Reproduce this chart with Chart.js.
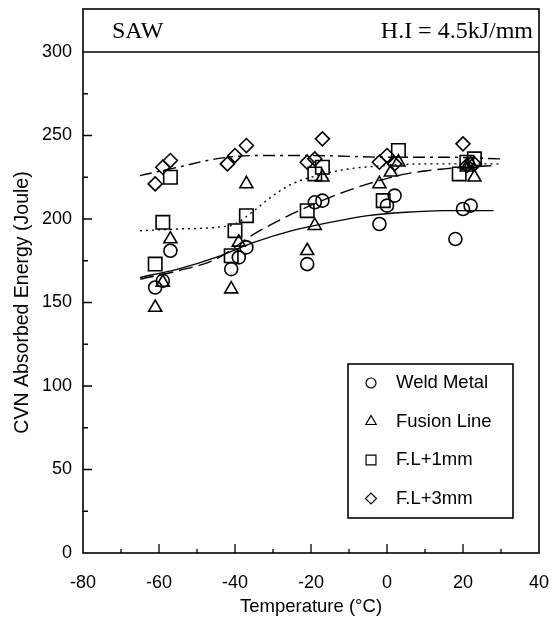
<!DOCTYPE html>
<html>
<head>
<meta charset="utf-8">
<script src="https://cdn.jsdelivr.net/npm/chart.js@4.4.0/dist/chart.umd.min.js"></script>
<style>
  html, body { margin: 0; padding: 0; background: #fff; }
  canvas { display: block; }
</style>
</head>
<body>
<canvas id="chart" width="556" height="623"></canvas>
<script>
// measured points (temperature in °C, energy in J)
const weldT = [-61, -59, -57, -41, -39, -37, -21, -19, -17, -2, 0, 2, 18, 20, 22];
const weldE = [159, 163, 181, 170, 177, 183, 173, 210, 211, 197, 208, 214, 188, 206, 208];

const fusionT = [-61, -59, -57, -41, -39, -37, -21, -19, -17, -2, 1, 3, 21, 22, 23];
const fusionE = [147, 162, 188, 158, 186, 221, 181, 196, 225, 221, 228, 234, 231, 233, 225];

const fl1T = [-61, -59, -57, -41, -40, -37, -21, -19, -17, -1, 3, 19, 21, 23];
const fl1E = [173, 198, 225, 178, 193, 202, 205, 227, 231, 211, 241, 227, 234, 236];

const fl3T = [-61, -59, -57, -42, -40, -37, -21, -19, -17, -2, 0, 2, 20, 21, 23];
const fl3E = [221, 231, 235, 233, 238, 244, 234, 236, 248, 234, 238, 233, 245, 232, 233];

// fitted trend curves
const weldFitT = [-65, -55, -45, -35, -25, -15, -5, 5, 15, 28];
const weldFitE = [165, 170, 177, 186, 193, 198, 202, 204, 205, 205];

const fusionFitT = [-65, -55, -45, -35, -25, -15, -5, 5, 15, 28];
const fusionFitE = [164, 169, 176, 191, 203, 213, 221, 227, 230, 232];

const fl1FitT = [-65, -55, -45, -40, -35, -30, -25, -20, -10, 0, 10, 20, 30];
const fl1FitE = [193, 194, 195, 197, 205, 214, 221, 225, 230, 232, 233, 233, 233];

const fl3FitT = [-65, -55, -45, -35, -20, 0, 15, 30];
const fl3FitE = [226, 231, 236, 238, 238, 237, 237, 236];

const labels = ['Weld Metal', 'Fusion Line', 'F.L+1mm', 'F.L+3mm'];
const xTicks = [-80, -60, -40, -20, 0, 20, 40];
const yTicks = [0, 50, 100, 150, 200, 250, 300];

const pts = (xs, ys) => xs.map((x, i) => ({ x: x, y: ys[i] }));

function marks(label, xs, ys, style, r) {
  return {
    type: 'scatter', label: label, data: pts(xs, ys),
    pointStyle: style, pointRadius: r, pointHoverRadius: r,
    pointBorderWidth: 1.6, borderColor: '#000', backgroundColor: 'rgba(0,0,0,0)',
    showLine: false
  };
}

function fit(xs, ys, dash) {
  return {
    type: 'line', label: '_fit', data: pts(xs, ys),
    borderColor: '#000', borderWidth: 1.4, borderDash: dash,
    pointRadius: 0, fill: false, cubicInterpolationMode: 'monotone'
  };
}

const frame = {
  id: 'frame',
  afterDraw(chart) {
    const { ctx, chartArea: a, scales: { x, y } } = chart;
    ctx.save();
    ctx.strokeStyle = '#000';
    ctx.lineWidth = 1.6;
    ctx.strokeRect(a.left, 9, a.right - a.left, a.bottom - 9);
    ctx.beginPath();
    ctx.moveTo(a.left, a.top);
    ctx.lineTo(a.right, a.top);
    ctx.stroke();

    // inward tick marks
    ctx.lineWidth = 1.3;
    ctx.beginPath();
    for (let v = 25; v < 300; v += 25) {
      const py = y.getPixelForValue(v);
      const len = v % 50 === 0 ? 9 : 5;
      ctx.moveTo(a.left, py);
      ctx.lineTo(a.left + len, py);
    }
    for (let t = -70; t < 40; t += 10) {
      const px = x.getPixelForValue(t);
      const len = t % 20 === 0 ? 9 : 4;
      ctx.moveTo(px, a.bottom);
      ctx.lineTo(px, a.bottom - len);
    }
    ctx.stroke();

    // header
    ctx.fillStyle = '#000';
    ctx.textBaseline = 'alphabetic';
    ctx.font = '24px "Liberation Serif"';
    ctx.textAlign = 'left';
    ctx.fillText('SAW', 112, 38);
    ctx.textAlign = 'right';
    ctx.fillText('H.I = 4.5kJ/mm', 533, 38);

    // legend
    ctx.lineWidth = 1.6;
    ctx.strokeRect(348, 364, 165, 154);
    ctx.font = '18.5px "Liberation Sans"';
    ctx.textAlign = 'left';
    ctx.textBaseline = 'middle';
    const sizes = [5, 6, 7, 5.5];
    let n = 0;
    chart.data.datasets.forEach(ds => {
      if (ds.label === '_fit') return;
      const cy = 383 + n * 38.5;
      ctx.lineWidth = 1.2;
      ctx.fillStyle = '#fff';
      Chart.helpers.drawPoint(ctx, { pointStyle: ds.pointStyle, radius: sizes[n], rotation: 0, borderWidth: 1.2 }, 371, cy);
      ctx.fillStyle = '#000';
      ctx.fillText(ds.label, 396, cy);
      n++;
    });
    ctx.restore();
  }
};

new Chart(document.getElementById('chart'), {
  data: {
    datasets: [
      marks(labels[0], weldT, weldE, 'circle', 6.5),
      marks(labels[1], fusionT, fusionE, 'triangle', 7.5),
      marks(labels[2], fl1T, fl1E, 'rect', 9.5),
      marks(labels[3], fl3T, fl3E, 'rectRot', 7),
      fit(weldFitT, weldFitE, []),
      fit(fusionFitT, fusionFitE, [14, 6]),
      fit(fl1FitT, fl1FitE, [2, 4]),
      fit(fl3FitT, fl3FitE, [12, 5, 3, 5])
    ]
  },
  options: {
    responsive: false,
    animation: false,
    layout: { padding: { top: 52, right: 17, left: 0, bottom: 0 } },
    plugins: { legend: { display: false }, tooltip: { enabled: false } },
    scales: {
      x: {
        type: 'linear', min: -80, max: 40,
        afterFit(s) { s.height = 70; s.paddingLeft = 0; s.paddingRight = 0; },
        afterBuildTicks(s) { s.ticks = xTicks.map(v => ({ value: v })); },
        grid: { display: false, drawTicks: false },
        border: { display: false },
        ticks: { color: '#000', padding: 19, font: { family: 'Liberation Sans', size: 18 } },
        title: { display: true, text: 'Temperature (°C)', color: '#000', padding: { top: 0, bottom: 5 },
                 font: { family: 'Liberation Sans', size: 18.5 } }
      },
      y: {
        type: 'linear', min: 0, max: 300,
        afterFit(s) { s.width = 83; s.paddingTop = 0; s.paddingBottom = 0; },
        afterBuildTicks(s) { s.ticks = yTicks.map(v => ({ value: v })); },
        grid: { display: false, drawTicks: false },
        border: { display: false },
        ticks: { color: '#000', padding: 11, font: { family: 'Liberation Sans', size: 18 } },
        title: { display: true, text: 'CVN Absorbed Energy (Joule)', color: '#000', padding: { top: 11, bottom: 0 },
                 font: { family: 'Liberation Sans', size: 19.5 } }
      }
    }
  },
  plugins: [frame]
});
</script>
</body>
</html>
